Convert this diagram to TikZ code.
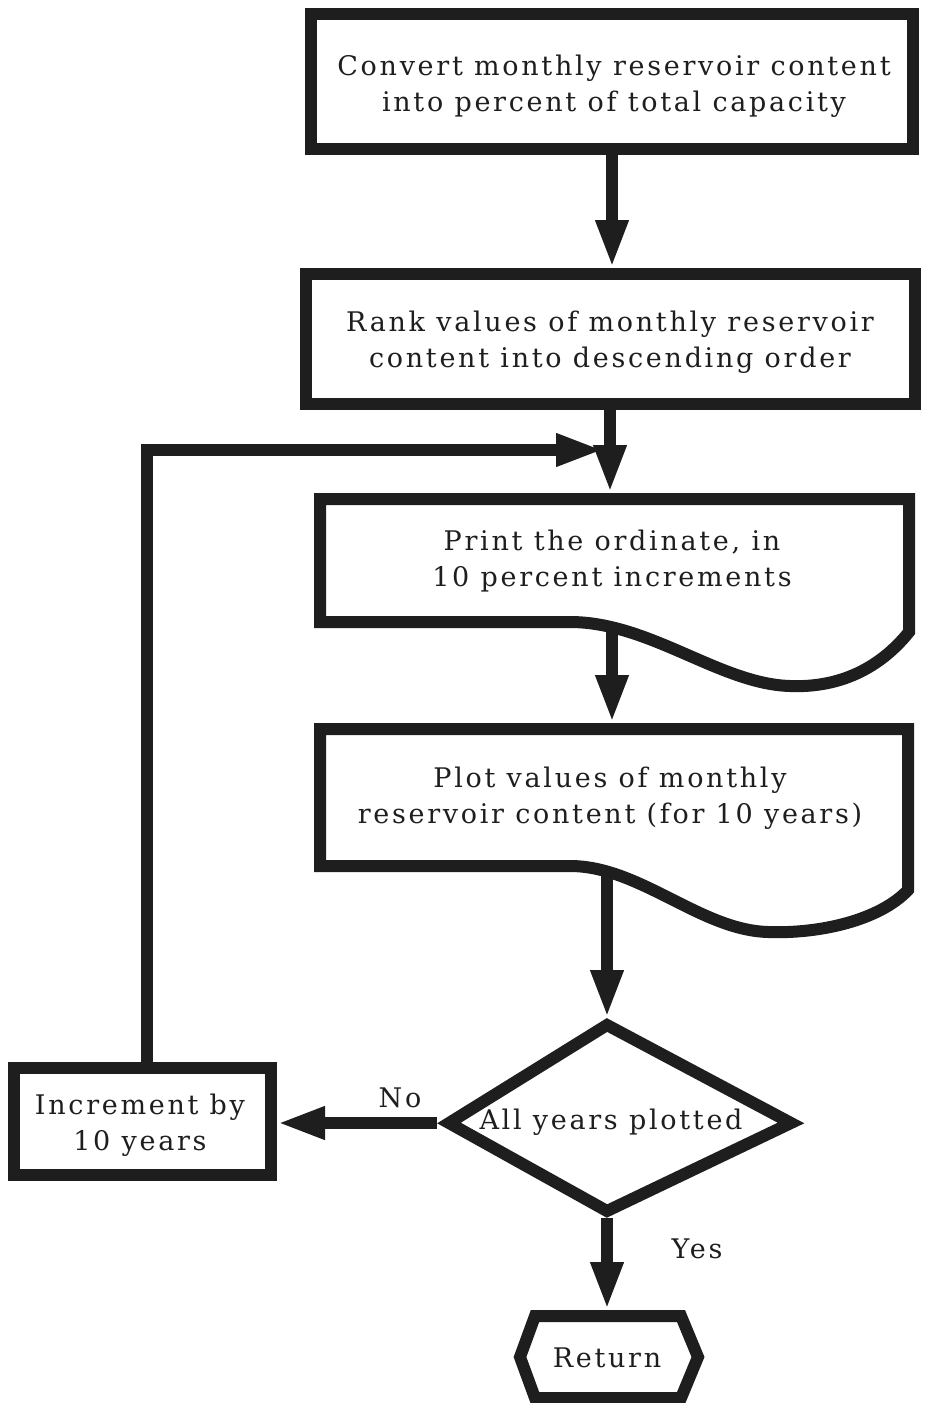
\documentclass[tikz,border=0pt]{standalone}
\usepackage{fontspec}
\setmainfont{DejaVu Serif}[LetterSpace=10]
\usetikzlibrary{arrows.meta}
\definecolor{ink}{HTML}{1E1E1E}
\begin{document}
\begin{tikzpicture}[x=1pt,y=-1pt,
  txt/.style={font=\fontsize{27}{36}\selectfont, align=center, text=ink, inner sep=0pt},
  box/.style={draw=ink, line width=12pt, rectangle, inner sep=0pt},
  outline/.style={draw=ink, line width=12pt, line join=miter},
  flow/.style={draw=ink, line width=12pt, -{Triangle[length=48pt,width=30pt]}},
  lbl/.style={txt}]
\useasboundingbox (0,0) rectangle (927,1403);

% process boxes
\node[box, minimum width=602pt, minimum height=135pt] (b1) at (612,81.5) {};
\node[txt] (t1) at (614,86) {Convert monthly reservoir content\\into percent of total capacity};
\node[box, minimum width=609pt, minimum height=130pt] (b2) at (610,339) {};
\node[txt] (t2) at (610,342) {Rank values of monthly reservoir\\content into descending order};

% document 1
\draw[outline] (320,499) -- (909,499) -- (909,632)
  .. controls (880,668) and (840,688) .. (790,686)
  .. controls (720,684) and (650,622) .. (570,622) -- (320,622) -- cycle;
\node[txt] (b3) at (612,561) {Print the ordinate, in\\10 percent increments};

% document 2
\draw[outline] (320,729) -- (908,729) -- (908,890)
  .. controls (880,920) and (820,934) .. (768,932)
  .. controls (700,930) and (640,866) .. (570,866) -- (320,866) -- cycle;
\node[txt] (b4) at (610,798) {Plot values of monthly\\reservoir content (for 10 years)};

% decision
\draw[outline] (607,1025) -- (791,1123) -- (607,1211) -- (449,1123) -- cycle;
\node[txt] (dec) at (611,1122) {All years plotted};
\coordinate (dT) at (607,1018);
\coordinate (dL) at (437,1123);
\coordinate (dB) at (607,1218);

% increment
\node[box, minimum width=257pt, minimum height=107pt] (inc) at (142.5,1121) {};
\node[txt] (tinc) at (140,1125) {Increment by\\10 years};

% return terminal
\draw[outline] (535,1316) -- (681,1316) -- (698,1357) -- (681,1398) -- (535,1398) -- (520,1357) -- cycle;
\node[txt] (ret) at (607,1358) {Return};
\coordinate (retTop) at (607,1310);

% connector coordinates
\coordinate (b3in) at (612,493);
\coordinate (b3out) at (612,626);
\coordinate (b4in) at (612,723);
\coordinate (b4out) at (607,870);
\coordinate (loopIn) at (604,450);

% connectors
\draw[flow] (b1.south) -- (b1.south |- b2.north);
\draw[flow] (b2.south) -- (b2.south |- b3in);
\draw[flow] ([xshift=4pt]inc.north) |- (loopIn);
\draw[flow] (b3out) -- (b4in);
\draw[flow] (b4out) -- (dT);
\draw[flow] (dL) -- (dL -| inc.east);
\draw[flow] (dB) -- (retTop);

% labels
\node[lbl] (no) at (400,1098) {No};
\node[lbl] (yes) at (697,1249) {Yes};
\end{tikzpicture}
\end{document}
